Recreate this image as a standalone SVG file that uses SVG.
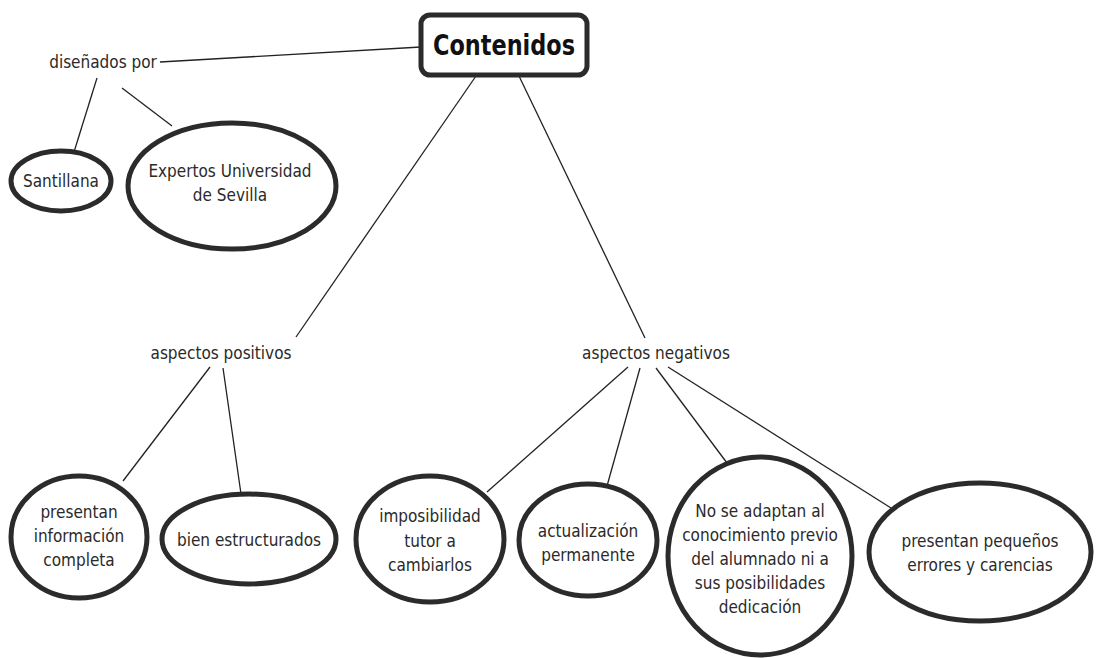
<svg xmlns="http://www.w3.org/2000/svg" width="1097" height="658" viewBox="0 0 1097 658">
<style>
.n{fill:#fff;stroke:#2b2b2b;stroke-width:5}
.t{font-family:"DejaVu Sans Condensed","DejaVu Sans",sans-serif;font-size:17px;fill:#2a2a2a;text-anchor:middle;dominant-baseline:central}
.c{stroke:#222;stroke-width:1.3;fill:none}
.h{font-family:"DejaVu Sans Condensed","DejaVu Sans",sans-serif;font-size:28px;font-weight:bold;fill:#111;text-anchor:middle;dominant-baseline:central}
</style>
<rect width="1097" height="658" fill="#fff"/>
<g id="connectors">
<line class="c" x1="160" y1="62" x2="421" y2="47"/>
<line class="c" x1="97" y1="78" x2="74" y2="152"/>
<line class="c" x1="122" y1="88" x2="172" y2="126"/>
<line class="c" x1="476" y1="76" x2="296" y2="337"/>
<line class="c" x1="519" y1="76" x2="645" y2="338"/>
<line class="c" x1="210" y1="367" x2="123" y2="481"/>
<line class="c" x1="223" y1="368" x2="241" y2="494"/>
<line class="c" x1="628" y1="367" x2="487" y2="492"/>
<line class="c" x1="640" y1="368" x2="607" y2="486"/>
<line class="c" x1="656" y1="368" x2="730" y2="467"/>
<line class="c" x1="668" y1="367" x2="891" y2="508"/>
</g>
<g id="contenidos"><rect class="n" x="421" y="15" width="166" height="60" rx="9" stroke-width="5.5" stroke="#111"/><text class="h" x="504" y="45" textLength="142" lengthAdjust="spacingAndGlyphs">Contenidos</text></g>
<g id="disenados"><text class="t" x="103" y="62">diseñados por</text></g>
<g id="santillana"><ellipse class="n" cx="61" cy="181" rx="50" ry="30"/><text class="t" x="61" y="181">Santillana</text></g>
<g id="expertos"><ellipse class="n" cx="232" cy="186" rx="104" ry="63"/><text class="t" x="230" y="171">Expertos Universidad</text><text class="t" x="230" y="195">de Sevilla</text></g>
<g id="positivos"><text class="t" x="221" y="353">aspectos positivos</text></g>
<g id="negativos"><text class="t" x="656" y="353">aspectos negativos</text></g>
<g id="informacion"><ellipse class="n" cx="79" cy="537" rx="68" ry="61"/><text class="t" x="79" y="512">presentan</text><text class="t" x="79" y="536">información</text><text class="t" x="79" y="560">completa</text></g>
<g id="estructurados"><ellipse class="n" cx="249" cy="539" rx="87" ry="45"/><text class="t" x="249" y="540">bien estructurados</text></g>
<g id="imposibilidad"><ellipse class="n" cx="430" cy="539" rx="74" ry="63"/><text class="t" x="430" y="516">imposibilidad</text><text class="t" x="430" y="541">tutor a</text><text class="t" x="430" y="565">cambiarlos</text></g>
<g id="actualizacion"><ellipse class="n" cx="588" cy="540" rx="69" ry="56"/><text class="t" x="588" y="531">actualización</text><text class="t" x="588" y="555">permanente</text></g>
<g id="noadaptan"><ellipse class="n" cx="760" cy="556" rx="92" ry="99"/><text class="t" x="760" y="511">No se adaptan al</text><text class="t" x="760" y="535">conocimiento previo</text><text class="t" x="760" y="559">del alumnado ni a</text><text class="t" x="760" y="583">sus posibilidades</text><text class="t" x="760" y="607">dedicación</text></g>
<g id="errores"><ellipse class="n" cx="980" cy="552" rx="111" ry="69"/><text class="t" x="980" y="541">presentan pequeños</text><text class="t" x="980" y="565">errores y carencias</text></g>
</svg>
